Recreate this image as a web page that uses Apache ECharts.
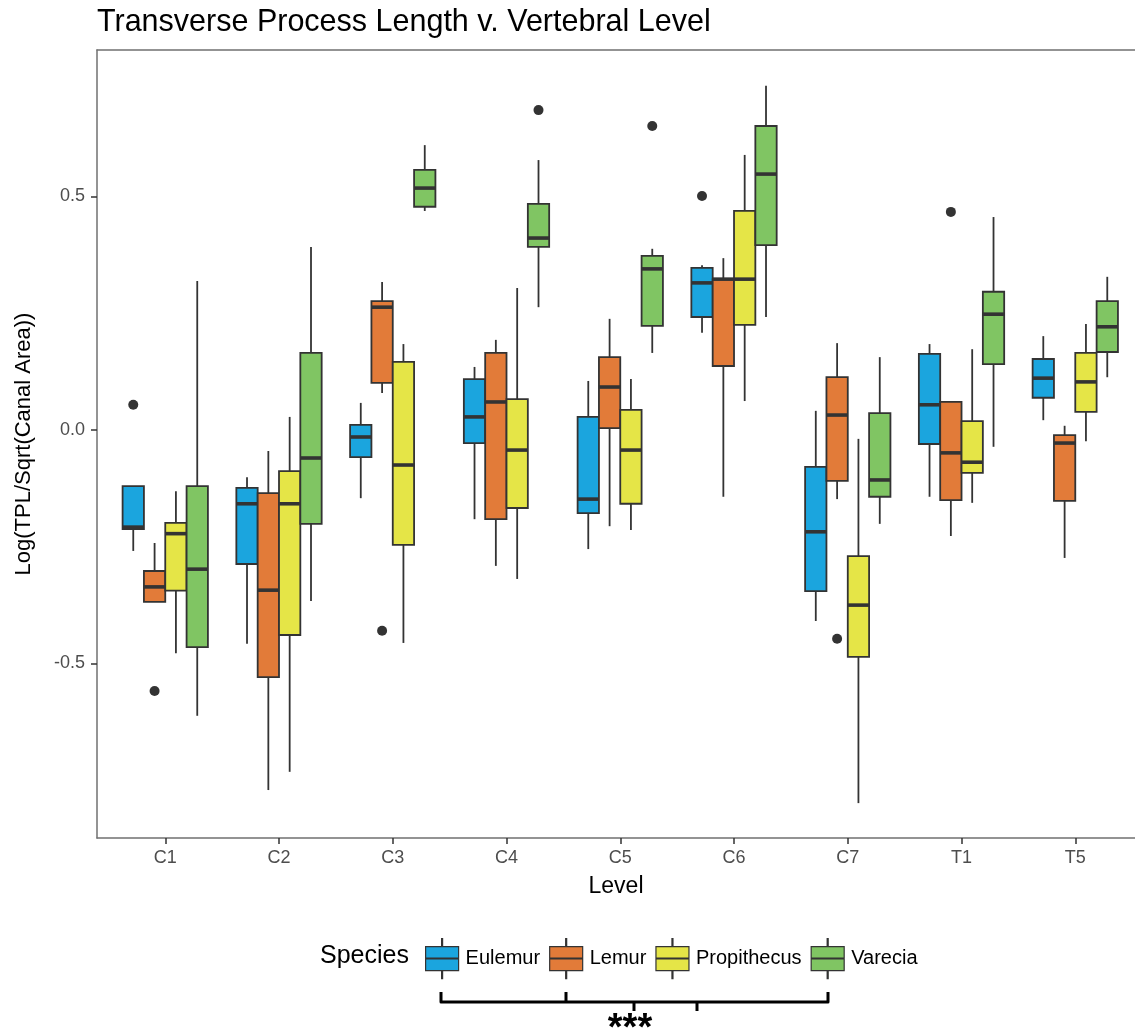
<!DOCTYPE html>
<html>
<head>
<meta charset="utf-8">
<script src="https://cdn.jsdelivr.net/npm/echarts@6/dist/echarts.min.js"></script>
<style>
  html, body { margin: 0; padding: 0; background: #ffffff; }
  #chart { width: 1135px; height: 1034px; }
</style>
</head>
<body>
<div id="chart"></div>
<script>
// ---- Data ----
const LEVELS = ['C1', 'C2', 'C3', 'C4', 'C5', 'C6', 'C7', 'T1', 'T5'];
const SPECIES = ['Eulemur', 'Lemur', 'Propithecus', 'Varecia'];
const Y_TICKS = [-0.5, 0, 0.5];

// each row: [lower whisker, Q1, median, Q3, upper whisker], one row per level
const EULEMUR = [
  [-0.259, -0.212, -0.208, -0.120, -0.120],
  [-0.458, -0.287, -0.158, -0.124, -0.101],
  [-0.146, -0.058, -0.015, 0.011, 0.058],
  [-0.191, -0.028, 0.028, 0.109, 0.135],
  [-0.255, -0.178, -0.148, 0.028, 0.105],
  [0.208, 0.242, 0.315, 0.347, 0.353],
  [-0.409, -0.345, -0.218, -0.079, 0.041],
  [-0.143, -0.030, 0.054, 0.163, 0.184],
  [0.021, 0.069, 0.111, 0.152, 0.201]
];
const LEMUR = [
  [-0.368, -0.368, -0.336, -0.302, -0.242],
  [-0.771, -0.529, -0.343, -0.135, -0.045],
  [0.079, 0.101, 0.263, 0.276, 0.317],
  [-0.291, -0.191, 0.060, 0.165, 0.193],
  [-0.206, 0.004, 0.092, 0.156, 0.238],
  [-0.143, 0.137, 0.323, 0.323, 0.368],
  [-0.148, -0.109, 0.032, 0.113, 0.186],
  [-0.227, -0.150, -0.049, 0.060, 0.060],
  [-0.274, -0.152, -0.028, -0.011, 0.009]
];
const PROPITHECUS = [
  [-0.478, -0.344, -0.222, -0.199, -0.131],
  [-0.732, -0.439, -0.158, -0.088, 0.028],
  [-0.456, -0.246, -0.075, 0.146, 0.184],
  [-0.319, -0.167, -0.043, 0.066, 0.304],
  [-0.214, -0.158, -0.043, 0.043, 0.109],
  [0.062, 0.225, 0.323, 0.469, 0.589],
  [-0.799, -0.486, -0.375, -0.270, -0.019],
  [-0.156, -0.092, -0.069, 0.019, 0.173],
  [-0.024, 0.039, 0.103, 0.165, 0.227]
];
const VARECIA = [
  [-0.612, -0.465, -0.298, -0.120, 0.319],
  [-0.366, -0.201, -0.060, 0.165, 0.392],
  [0.469, 0.478, 0.518, 0.557, 0.610],
  [0.263, 0.392, 0.411, 0.484, 0.578],
  [0.165, 0.223, 0.345, 0.373, 0.388],
  [0.242, 0.396, 0.548, 0.651, 0.737],
  [-0.201, -0.143, -0.107, 0.036, 0.156],
  [-0.036, 0.141, 0.248, 0.296, 0.456],
  [0.113, 0.167, 0.221, 0.276, 0.328]
];

// outliers: [level, value]
const EULEMUR_OUT = [['C1', 0.054], ['C6', 0.501]];
const LEMUR_OUT = [['C1', -0.559], ['C3', -0.430], ['C7', -0.447], ['T1', 0.467]];
const PROPITHECUS_OUT = [];
const VARECIA_OUT = [['C4', 0.685], ['C5', 0.651]];

// ---- Styling ----
const COLORS = ['#1BA5DE', '#E27B39', '#E5E547', '#80C563'];
const LINE = '#333333';
const OFFSETS = [-0.28125, -0.09375, 0.09375, 0.28125];
const BOX_FRAC = 0.1875;
const FONT = '"Liberation Sans", Arial, Helvetica, sans-serif';

const BOXES = [EULEMUR, LEMUR, PROPITHECUS, VARECIA];
const OUTS = [EULEMUR_OUT, LEMUR_OUT, PROPITHECUS_OUT, VARECIA_OUT];

function boxRender(k) {
  return function (params, api) {
    const i = api.value(0);
    const bw = api.size([1, 0])[0];
    const xc = api.coord([i, 0])[0] + OFFSETS[k] * bw;
    const half = BOX_FRAC * bw / 2;
    const y = function (j) { return api.coord([i, api.value(j)])[1]; };
    const yLo = y(1), yQ1 = y(2), yMed = y(3), yQ3 = y(4), yHi = y(5);
    const lw = 1.8;
    return {
      type: 'group',
      children: [
        { type: 'line', shape: { x1: xc, y1: yHi, x2: xc, y2: yQ3 }, style: { stroke: LINE, lineWidth: lw } },
        { type: 'line', shape: { x1: xc, y1: yQ1, x2: xc, y2: yLo }, style: { stroke: LINE, lineWidth: lw } },
        { type: 'rect', shape: { x: xc - half, y: yQ3, width: 2 * half, height: yQ1 - yQ3 },
          style: { fill: COLORS[k], stroke: LINE, lineWidth: lw } },
        { type: 'line', shape: { x1: xc - half, y1: yMed, x2: xc + half, y2: yMed },
          style: { stroke: LINE, lineWidth: 3.6 } }
      ]
    };
  };
}

function outlierRender(params, api) {
  const i = api.value(0);
  const k = api.value(1);
  const bw = api.size([1, 0])[0];
  const p = api.coord([i, api.value(2)]);
  return { type: 'circle', shape: { cx: p[0] + OFFSETS[k] * bw, cy: p[1], r: 5 }, style: { fill: LINE } };
}

const series = SPECIES.map(function (name, k) {
  return {
    name: name,
    type: 'custom',
    renderItem: boxRender(k),
    itemStyle: { color: COLORS[k] },
    encode: { x: 0, y: [1, 2, 3, 4, 5] },
    data: BOXES[k].map(function (d, i) { return [i].concat(d); }),
    z: 2
  };
});
const outlierData = [];
OUTS.forEach(function (list, k) {
  list.forEach(function (o) { outlierData.push([LEVELS.indexOf(o[0]), k, o[1]]); });
});
series.push({
  name: 'outliers',
  type: 'custom',
  renderItem: outlierRender,
  encode: { x: 0, y: 2 },
  data: outlierData,
  z: 3
});

const LEVEL_IDX = LEVELS.map(function (l, i) { return i; });
const X_MIN = -0.6, X_MAX = 8.525;

const legendIcon = 'path://M16,0L17,0L17,8L16,8Z M0,8L33,8L33,19.6L0,19.6Z M0,20.4L33,20.4L33,32L0,32Z M16,32L17,32L17,40L16,40Z';

const option = {
  animation: false,
  backgroundColor: '#ffffff',
  textStyle: { fontFamily: FONT },
  title: [
    { text: 'Transverse Process Length v. Vertebral Level', left: 97, top: 6, padding: 0,
      textStyle: { fontSize: 30.5, fontWeight: 'normal', color: '#000', fontFamily: FONT, lineHeight: 34 } },
    { text: 'Species', left: 320, top: 941, padding: 0,
      textStyle: { fontSize: 25, fontWeight: 'normal', color: '#000', fontFamily: FONT, lineHeight: 30 } }
  ],
  grid: { left: 97, right: 0, top: 50, bottom: 196, containLabel: false },
  legend: {
    data: SPECIES,
    left: 420, top: 933,
    orient: 'horizontal',
    icon: legendIcon,
    itemWidth: 33, itemHeight: 40, itemGap: 9,
    itemStyle: { borderColor: LINE, borderWidth: 1.2 },
    textStyle: { fontSize: 20, color: '#000', fontFamily: FONT, padding: [0, 0, 0, 2] },
    selectedMode: false
  },
  xAxis: [
    {
      type: 'value', min: X_MIN, max: X_MAX, position: 'bottom',
      name: 'Level', nameLocation: 'middle', nameGap: 37,
      nameTextStyle: { fontSize: 23, color: '#000', fontFamily: FONT },
      axisLine: { show: true, onZero: false, lineStyle: { color: '#707070', width: 1.5 } },
      axisTick: { show: true, length: 6, customValues: LEVEL_IDX, lineStyle: { color: LINE, width: 1.5 } },
      axisLabel: { customValues: LEVEL_IDX, formatter: function (v) { return LEVELS[Math.round(v)]; },
        fontSize: 18, color: '#4d4d4d', margin: 11, fontFamily: FONT },
      splitLine: { show: false }
    },
    {
      type: 'value', min: X_MIN, max: X_MAX, position: 'top',
      axisLine: { show: true, onZero: false, lineStyle: { color: '#707070', width: 1.5 } },
      axisTick: { show: false }, axisLabel: { show: false }, splitLine: { show: false }
    }
  ],
  yAxis: {
    type: 'value', min: -0.8737, max: 0.8137,
    name: 'Log(TPL/Sqrt(Canal Area))', nameLocation: 'middle', nameGap: 62,
    nameTextStyle: { fontSize: 22, color: '#000', fontFamily: FONT },
    axisLine: { show: true, onZero: false, lineStyle: { color: '#707070', width: 1.5 } },
    axisTick: { show: true, length: 6, customValues: Y_TICKS, lineStyle: { color: LINE, width: 1.5 } },
    axisLabel: { customValues: Y_TICKS, formatter: function (v) { return v.toFixed(1); },
      fontSize: 18, color: '#4d4d4d', margin: 12, fontFamily: FONT },
    splitLine: { show: false }
  },
  series: series,
  graphic: [
    { type: 'polyline', shape: { points: [[441, 992], [441, 1002], [828, 1002], [828, 992]] },
      style: { stroke: '#000', lineWidth: 3, fill: null, lineJoin: 'round' } },
    { type: 'line', shape: { x1: 566, y1: 992, x2: 566, y2: 1002 }, style: { stroke: '#000', lineWidth: 3 } },
    { type: 'line', shape: { x1: 634, y1: 1002, x2: 634, y2: 1011 }, style: { stroke: '#000', lineWidth: 3 } },
    { type: 'line', shape: { x1: 697, y1: 1002, x2: 697, y2: 1011 }, style: { stroke: '#000', lineWidth: 3 } },
    { type: 'text', x: 630, y: 1030,
      style: { text: '***', fill: '#000', fontSize: 38, fontWeight: 'bold', fontFamily: FONT,
        textAlign: 'center', textVerticalAlign: 'middle' } }
  ]
};

const chart = echarts.init(document.getElementById('chart'), null, { renderer: 'canvas' });
chart.setOption(option);
</script>
</body>
</html>
